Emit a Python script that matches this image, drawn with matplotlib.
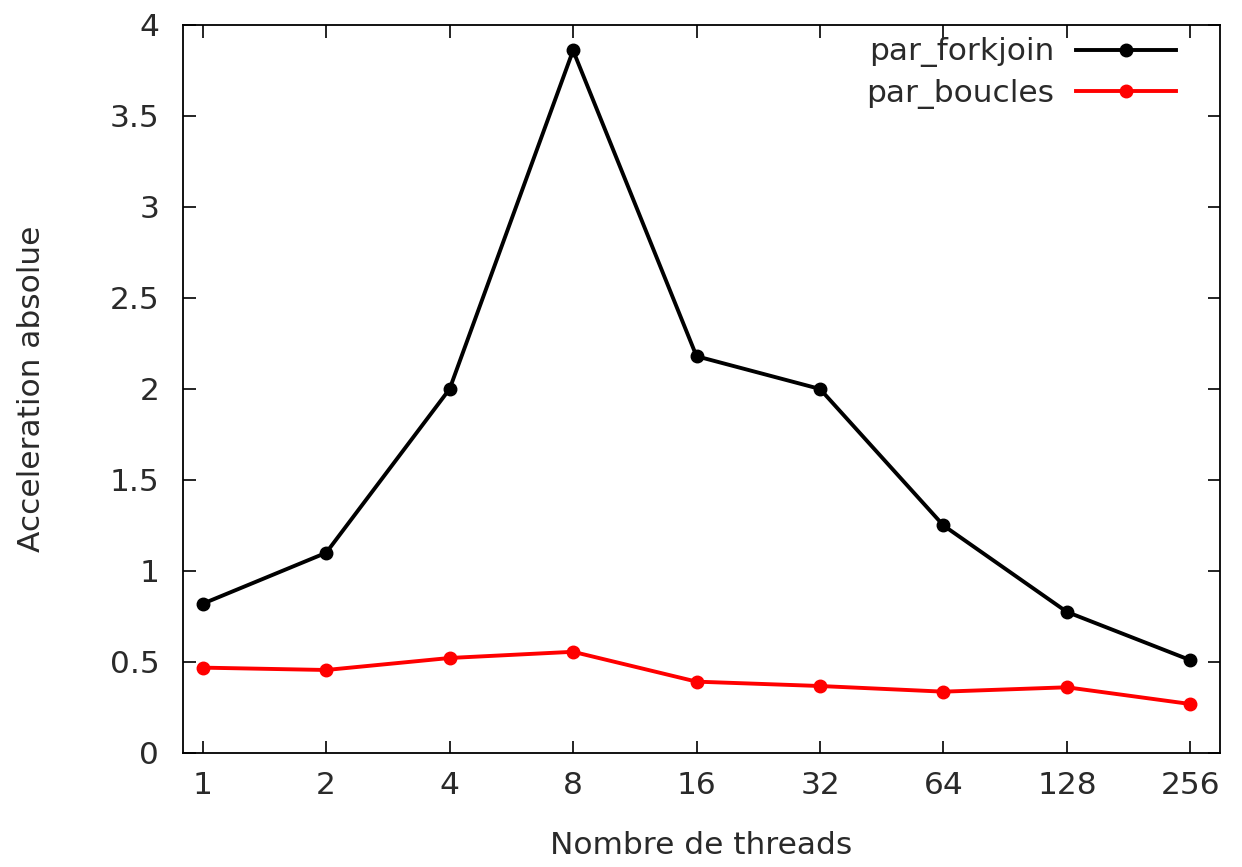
import matplotlib.pyplot as plt

threads = ["1", "2", "4", "8", "16", "32", "64", "128", "256"]
par_forkjoin = [0.82, 1.10, 2.00, 3.86, 2.18, 2.00, 1.25, 0.775, 0.51]
par_boucles = [0.469, 0.456, 0.522, 0.556, 0.392, 0.368, 0.337, 0.361, 0.269]

plt.rcParams['font.family'] = ['DejaVu Sans']
plt.rcParams['font.size'] = 22.5
txt = '#2a2a2a'

fig = plt.figure(figsize=(12.42, 8.67), dpi=100)
ax = fig.add_axes([0.1473, 0.1315, 0.835, 0.8397])

x = list(range(len(threads)))
ax.plot(x, par_forkjoin, color='black', lw=2.8, marker='o', ms=9, label='par_forkjoin')
ax.plot(x, par_boucles, color='red', lw=2.8, marker='o', ms=9, label='par_boucles')

ax.set_xlim(-0.16, 8.24)
ax.set_ylim(0, 4)
ax.set_xticks(x)
ax.set_xticklabels(threads)
ax.set_yticks([0, 0.5, 1, 1.5, 2, 2.5, 3, 3.5, 4])
ax.set_yticklabels(['0', '0.5', '1', '1.5', '2', '2.5', '3', '3.5', '4'])
ax.tick_params(direction='in', length=9, width=1.2, top=True, right=True,
               colors='black', labelcolor=txt)
ax.tick_params(axis='y', pad=17)
ax.tick_params(axis='x', pad=13)
for s in ax.spines.values():
    s.set_linewidth(1.3)

ax.set_xlabel('Nombre de threads', color=txt, labelpad=22)
ax.set_ylabel('Acceleration absolue', color=txt, labelpad=46)

leg = ax.legend(loc='upper right', frameon=False, markerfirst=False,
                handlelength=3.2, handletextpad=0.7, labelspacing=0.38,
                borderaxespad=0.0, bbox_to_anchor=(0.97, 1.0))
for t in leg.get_texts():
    t.set_color(txt)

fig.savefig('out.png', dpi=100)
